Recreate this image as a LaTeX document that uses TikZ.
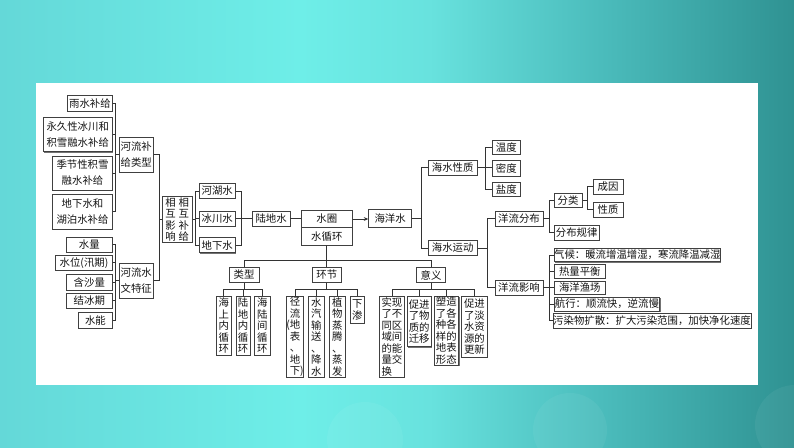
\documentclass[tikz,border=0pt]{standalone}
\usepackage{fontspec}
\newfontfamily\cjk{Noto Sans CJK SC}
\usetikzlibrary{shadows,arrows.meta}
\newcommand\fA{\cjk\fontsize{10.4}{11.5}\selectfont}
\newcommand\fB{\cjk\fontsize{10.4}{16}\selectfont}
\definecolor{bgA}{HTML}{64D8D8}
\definecolor{bgB}{HTML}{6EEEE8}
\definecolor{bgC}{HTML}{68E2DE}
\definecolor{bgE}{HTML}{4BBCBC}
\definecolor{bgD}{HTML}{2F9292}
\pgfdeclarehorizontalshading{bgsh}{100bp}{color(0bp)=(bgA); color(25bp)=(bgA); color(43.9bp)=(bgB); color(52bp)=(bgC); color(62.8bp)=(bgE); color(75bp)=(bgD); color(100bp)=(bgD)}
\tikzset{
  bx/.style={draw=black!75, line width=0.6pt, fill=white, inner sep=0pt, text=black!92,
    font=\fA, align=center,
    drop shadow={shadow xshift=0.8pt, shadow yshift=-0.8pt, fill=black!55, opacity=1}},
  bxb/.style={bx, font=\fB},
  ln/.style={draw=black!80, line width=0.7pt},
}
\begin{document}
\begin{tikzpicture}[x=1pt,y=-1pt]
\useasboundingbox (0,0) rectangle (794,447);
\fill[shading=bgsh] (0,0) rectangle (794,447);
\fill[white, opacity=0.05] (365,440) circle (38);
\fill[white, opacity=0.05] (570,430) circle (37);
\fill[white, opacity=0.05] (795,425) circle (40);
\fill[white] (36,82.7) rectangle (758.3,385);

% left groups
\node[bx, minimum width=45.1pt, minimum height=16pt] (yushui) at (89.9,103.3) {雨水补给};
\node[bxb, minimum width=69.4pt, minimum height=34.4pt] (yongjiu) at (77.7,134.5) {永久性冰川和\\积雪融水补给};
\node[bxb, minimum width=59.7pt, minimum height=34pt] (jijie) at (82.5,173) {季节性积雪\\融水补给};
\node[bxb, minimum width=59.7pt, minimum height=35pt] (dixia) at (82.5,211.8) {地下水和\\湖泊水补给};
\node[bxb, minimum width=34.4pt, minimum height=35pt] (buji) at (136.2,154.8) {河流补\\给类型};
\node[bx, minimum width=46pt, minimum height=15.3pt] (shuiliang) at (89.3,244.7) {水量};
\node[bx, minimum width=56.7pt, minimum height=14.7pt] (shuiwei) at (84,262.7) {水位(汛期)};
\node[bx, minimum width=46pt, minimum height=15.7pt] (hansha) at (89.3,282.2) {含沙量};
\node[bx, minimum width=46pt, minimum height=15.3pt] (jiebing) at (89.3,300.7) {结冰期};
\node[bx, minimum width=33.9pt, minimum height=16.3pt] (shuineng) at (95.4,320.2) {水能};
\node[bxb, minimum width=34.4pt, minimum height=35pt] (wenzheng) at (136.2,280.8) {河流水\\文特征};
\node[bx, minimum width=30.4pt, minimum height=45.6pt] (xianghu) at (177.2,219.5) {相\hspace{3pt}相\\互\hspace{3pt}互\\影\hspace{3pt}补\\响\hspace{3pt}给};
\node[bx, minimum width=36.4pt, minimum height=14.6pt] (hehu) at (217.2,191) {河湖水};
\node[bx, minimum width=36.4pt, minimum height=15.7pt] (bingchuan) at (217.2,218.8) {冰川水};
\node[bx, minimum width=36.4pt, minimum height=15pt] (dixiashui) at (217.2,245.2) {地下水};
\node[bx, minimum width=37.9pt, minimum height=15.7pt] (ludi) at (271.1,218.8) {陆地水};
\node[bx, minimum width=51.1pt, minimum height=17.4pt] (shuiquan) at (326.8,219) {水圈};
\node[bx, minimum width=51.1pt, minimum height=17.3pt] (xunhuan) at (326.8,236.3) {水循环};
\node[bx, minimum width=43pt, minimum height=18pt] (haiyang) at (390.1,218.6) {海洋水};

% right part
\node[bx, minimum width=49.7pt, minimum height=14.3pt] (xingzhi) at (452.7,167.8) {海水性质};
\node[bx, minimum width=49.7pt, minimum height=15.3pt] (yundong) at (452.7,248) {海水运动};
\node[bx, minimum width=28.3pt, minimum height=14.7pt] (wendu) at (506.3,147.3) {温度};
\node[bx, minimum width=28.3pt, minimum height=16pt] (midu) at (506.3,168.3) {密度};
\node[bx, minimum width=28.3pt, minimum height=14.7pt] (yandu) at (506.3,189.3) {盐度};
\node[bx, minimum width=47.6pt, minimum height=15pt] (fenbu) at (519,218.5) {洋流分布};
\node[bx, minimum width=47.6pt, minimum height=15pt] (yingxiang) at (519,287.8) {洋流影响};
\node[bx, minimum width=28.3pt, minimum height=14.7pt] (fenlei) at (568.1,200.3) {分类};
\node[bx, minimum width=45.5pt, minimum height=15pt] (guilv) at (576.7,232.5) {分布规律};
\node[bx, minimum width=29.4pt, minimum height=15pt] (chengyin) at (608.1,186.8) {成因};
\node[bx, minimum width=29.4pt, minimum height=15pt] (xingzhib) at (608.1,209.8) {性质};
\node[bx, minimum width=166.5pt, minimum height=13.4pt] (qihou) at (637.3,255) {气候：暖流增温增湿，寒流降温减湿};
\node[bx, minimum width=51.6pt, minimum height=13.3pt] (reliang) at (579.8,271.3) {热量平衡};
\node[bx, minimum width=51.6pt, minimum height=13.7pt] (yuchang) at (579.8,287.8) {海洋渔场};
\node[bx, minimum width=105.7pt, minimum height=14pt] (hangxing) at (606.9,304) {航行：顺流快，逆流慢};
\node[bx, minimum width=195.9pt, minimum height=14.3pt] (wuran) at (652,320.8) {污染物扩散：扩大污染范围，加快净化速度};

% lower part
\node[bx, minimum width=30.3pt, minimum height=14.6pt] (leixing) at (244,275) {类型};
\node[bx, minimum width=28.4pt, minimum height=14.6pt] (huanjie) at (326.8,275) {环节};
\node[bx, minimum width=28.9pt, minimum height=14.6pt] (yiyi) at (431.1,275) {意义};
\node[bx, minimum width=15.2pt, minimum height=59pt] (lx1) at (223.8,325.8) {海\\上\\内\\循\\环};
\node[bx, minimum width=14.2pt, minimum height=59pt] (lx2) at (243,325.8) {陆\\地\\内\\循\\环};
\node[bx, minimum width=15.2pt, minimum height=59pt] (lx3) at (262.3,325.8) {海\\陆\\间\\循\\环};
\node[bx, minimum width=16.7pt, minimum height=80.7pt] (hj1) at (295,336.7) {径\\流\\\llap{(}地\\表\\、\\地\\下\rlap{)}};
\node[bx, minimum width=15.7pt, minimum height=80.7pt] (hj2) at (316.2,336.7) {水\\汽\\输\\送\\、\\降\\水};
\node[bx, minimum width=16.2pt, minimum height=80.7pt] (hj3) at (337.2,336.7) {植\\物\\蒸\\腾\\、\\蒸\\发};
\node[bx, minimum width=14.7pt, minimum height=27pt] (hj4) at (357.2,309.8) {下\\渗};
\node[bx, align=left, minimum width=25.4pt, minimum height=80.7pt] (yy1) at (391.9,336.7) {实现\\了不\\同区\\域间\\的能\\量交\\换};
\node[bx, align=left, minimum width=23.3pt, minimum height=50.4pt] (yy2) at (419.2,321.5) {促进\\了物\\质的\\迁移};
\node[bx, align=left, minimum width=24.8pt, minimum height=69pt] (yy3) at (446.3,330.8) {塑造\\了各\\种各\\样的\\地表\\形态};
\node[bx, align=left, minimum width=25.3pt, minimum height=60.7pt] (yy4) at (474.4,326.7) {促进\\了淡\\水资\\源的\\更新};

% trunk coordinates
\coordinate (t1) at (115.4,0);
\coordinate (t2) at (159.5,0);
\coordinate (t3) at (195.2,0);
\coordinate (t4) at (241,0);
\coordinate (t5) at (421.3,0);
\coordinate (t6) at (485.2,0);
\coordinate (t7) at (487.5,0);
\coordinate (t8) at (549.4,0);
\coordinate (t9) at (587.8,0);
\coordinate (h1) at (0,260);
\coordinate (h2) at (0,289.3);

% connectors left
\draw[ln] (yushui.east) -| (t1|-dixia.east) -- (dixia.east);
\draw[ln] (yongjiu.east) -- (t1|-yongjiu.east);
\draw[ln] (jijie.east) -- (t1|-jijie.east);
\draw[ln] (buji.west) -- (t1|-buji.west);
\draw[ln] (shuiliang.east) -| (t1|-shuineng.east) -- (shuineng.east);
\draw[ln] (shuiwei.east) -- (t1|-shuiwei.east);
\draw[ln] (hansha.east) -- (t1|-hansha.east);
\draw[ln] (jiebing.east) -- (t1|-jiebing.east);
\draw[ln] (wenzheng.west) -- (t1|-wenzheng.west);
\draw[ln] (buji.east) -| (t2|-wenzheng.east) -- (wenzheng.east);
\draw[ln] (xianghu.west) -- (t2|-xianghu.west);
\draw[ln] (hehu.west) -| (t3|-dixiashui.west) -- (dixiashui.west);
\draw[ln] (xianghu.east) -- (t3|-xianghu.east);
\draw[ln] (bingchuan.west) -- (t3|-bingchuan.west);
\draw[ln] (hehu.east) -| (t4|-dixiashui.east) -- (dixiashui.east);
\draw[ln] (bingchuan.east) -- (bingchuan.east-|ludi.west);
\draw[ln] (ludi.east) -- (ludi.east-|shuiquan.west);
\draw[ln, -{Stealth[length=4.5pt,width=3.8pt]}] (shuiquan.east) -- (shuiquan.east-|haiyang.west);

% connectors right
\draw[ln] (xingzhi.west) -| (t5|-yundong.west) -- (yundong.west);
\draw[ln] (haiyang.east) -- (t5|-haiyang.east);
\draw[ln] (wendu.west) -| (t6|-yandu.west) -- (yandu.west);
\draw[ln] (xingzhi.east) -- (xingzhi.east-|midu.west);
\draw[ln] (fenbu.west) -| (t7|-yingxiang.west) -- (yingxiang.west);
\draw[ln] (yundong.east) -- (t7|-yundong.east);
\draw[ln] (fenlei.west) -| (t8|-guilv.west) -- (guilv.west);
\draw[ln] (fenbu.east) -- (t8|-fenbu.east);
\draw[ln] (chengyin.west) -| (t9|-xingzhib.west) -- (xingzhib.west);
\draw[ln] (fenlei.east) -- (t9|-fenlei.east);
\draw[ln] (qihou.west) -| (t8|-wuran.west) -- (wuran.west);
\draw[ln] (reliang.west) -- (t8|-reliang.west);
\draw[ln] (hangxing.west) -- (t8|-hangxing.west);
\draw[ln] (yingxiang.east) -- (yingxiang.east-|yuchang.west);

% connectors lower
\draw[ln] (xunhuan.south) -- (huanjie.north);
\draw[ln] (leixing.north) |- (yiyi.north|-h1) -- (yiyi.north);
\draw[ln] (leixing.south) -- (leixing.south|-h2);
\draw[ln] (lx1.north) |- (lx3.north|-h2) -- (lx3.north);
\draw[ln] (lx2.north) -- (lx2.north|-h2);
\draw[ln] (huanjie.south) -- (huanjie.south|-h2);
\draw[ln] (hj1.north) |- (hj4.north|-h2) -- (hj4.north);
\draw[ln] (hj2.north) -- (hj2.north|-h2);
\draw[ln] (hj3.north) -- (hj3.north|-h2);
\draw[ln] (yiyi.south) -- (yiyi.south|-h2);
\draw[ln] (yy1.north) |- (yy4.north|-h2) -- (yy4.north);
\draw[ln] (yy2.north) -- (yy2.north|-h2);
\draw[ln] (yy3.north) -- (yy3.north|-h2);
\end{tikzpicture}
\end{document}
